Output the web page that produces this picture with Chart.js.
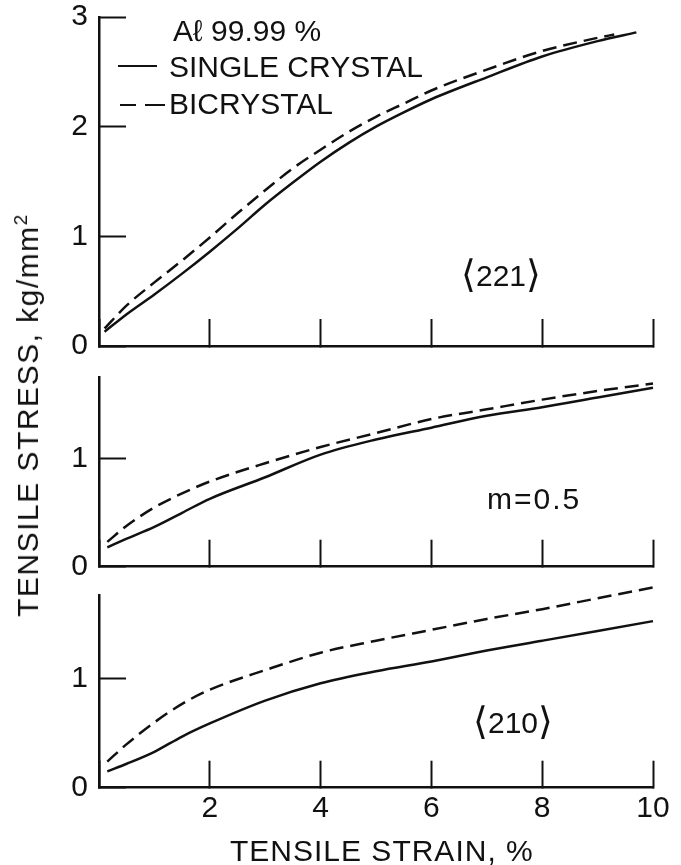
<!DOCTYPE html>
<html>
<head>
<meta charset="utf-8">
<script src="https://cdn.jsdelivr.net/npm/chart.js@4.4.1/dist/chart.umd.min.js"></script>
<style>
  body { margin: 0; background: #fff; }
  #wrap { position: relative; width: 681px; height: 865px; overflow: hidden;
          font-family: "Liberation Sans", Arial, "DejaVu Sans", sans-serif; color: #111; }
  canvas { position: absolute; left: 0; }
  .lbl { position: absolute; font-size: 30px; line-height: 1; white-space: nowrap; }
  .br { font-family: "DejaVu Sans", sans-serif; font-size: 38px; font-weight: 300; vertical-align: -1px; }
  .key { position: absolute; height: 0; border-top: 2.5px solid #111; }
  sup { font-size: 19px; line-height: 0; }
</style>
</head>
<body>
<div id="wrap">
  <canvas id="top" width="681" height="360" style="top:0"></canvas>
  <canvas id="mid" width="681" height="220" style="top:360px"></canvas>
  <canvas id="bot" width="681" height="285" style="top:580px"></canvas>

  <div class="lbl" style="left:173px; top:16px">Aℓ 99.99 %</div>
  <div class="key" style="left:118px; top:65px; width:39px"></div>
  <div class="lbl" style="left:169px; top:52px">SINGLE CRYSTAL</div>
  <div class="key" style="left:120px; top:104px; width:16px"></div>
  <div class="key" style="left:145px; top:104px; width:20px"></div>
  <div class="lbl" style="left:169px; top:89px">BICRYSTAL</div>

  <div class="lbl" style="left:461px; top:255px"><span class="br">⟨</span>221<span class="br">⟩</span></div>
  <div class="lbl" style="left:487px; top:484px; letter-spacing:2px">m=0.5</div>
  <div class="lbl" style="left:473px; top:702px"><span class="br">⟨</span>210<span class="br">⟩</span></div>

  <div class="lbl" style="left:230px; top:836px; letter-spacing:1px">TENSILE STRAIN, %</div>
  <div class="lbl" style="left:28px; top:415px; letter-spacing:1.5px; transform:translate(-50%,-50%) rotate(-90deg)">TENSILE STRESS, kg/mm<sup>2</sup></div>
</div>
<script>
// strain (%) and stress (kg/mm2)
const strainTop = [0.1, 0.5, 1, 1.5, 2, 2.5, 3, 3.5, 4, 4.5, 5, 5.5, 6, 7, 8, 9, 9.7];
const singleTop = [0.13, 0.29, 0.47, 0.66, 0.86, 1.07, 1.29, 1.49, 1.68, 1.85, 2.00, 2.13, 2.25, 2.45, 2.64, 2.78, 2.86];
const strainTopBi = [0.1, 0.5, 1, 1.5, 2, 2.5, 3, 3.5, 4, 4.5, 5, 5.5, 6, 7, 8, 9, 9.3];
const biTop = [0.16, 0.37, 0.58, 0.78, 0.99, 1.21, 1.42, 1.62, 1.79, 1.95, 2.09, 2.21, 2.33, 2.52, 2.69, 2.81, 2.84];

const strainMid = [0.15, 0.5, 1, 1.5, 2, 3, 4, 5, 6, 7, 8, 9, 10];
const singleMid = [0.18, 0.26, 0.37, 0.50, 0.63, 0.83, 1.04, 1.18, 1.29, 1.40, 1.48, 1.57, 1.66];
const biMid = [0.23, 0.38, 0.55, 0.68, 0.79, 0.96, 1.11, 1.24, 1.37, 1.46, 1.55, 1.63, 1.70];

const strainBot = [0.15, 0.5, 1, 1.5, 2, 3, 4, 5, 6, 7, 8, 9, 10];
const singleBot = [0.15, 0.22, 0.33, 0.47, 0.59, 0.80, 0.96, 1.07, 1.16, 1.26, 1.35, 1.44, 1.53];
const biBot = [0.24, 0.40, 0.60, 0.77, 0.90, 1.08, 1.24, 1.35, 1.45, 1.55, 1.64, 1.74, 1.84];

const xTicks = [0, 2, 4, 6, 8, 10];
const yTicksTop = [0, 1, 2, 3];
const yTicksLow = [0, 1];

const ink = '#111';
const tickFont = { family: 'Liberation Sans, Arial, sans-serif', size: 30 };

function series(xs, ys, dashed) {
    return {
        data: xs.map((x, i) => ({ x: x, y: ys[i] })),
        borderColor: ink,
        borderWidth: 2.5,
        borderDash: dashed ? [14, 7] : [],
        pointRadius: 0,
        fill: false,
        clip: false,
        cubicInterpolationMode: 'monotone'
    };
}

// scales would otherwise reserve room for half a label at each end
function noEdgePadding(s) {
    s.paddingTop = 0;
    s.paddingBottom = 0;
    s.paddingLeft = 0;
    s.paddingRight = 0;
}

function makePanel(id, datasets, yMax, yTicks, padTop, xAxisHeight, showX) {
    const ctx = document.getElementById(id).getContext('2d');
    new Chart(ctx, {
        type: 'line',
        data: { datasets: datasets },
        options: {
            responsive: false,
            animation: false,
            layout: { padding: { top: padTop, right: 28, left: 0, bottom: 0 } },
            plugins: { legend: { display: false }, tooltip: { enabled: false } },
            scales: {
                x: {
                    type: 'linear',
                    min: 0,
                    max: 10,
                    afterBuildTicks: s => { s.ticks = xTicks.map(v => ({ value: v })); },
                    afterFit: s => { s.height = xAxisHeight; noEdgePadding(s); },
                    border: { display: true, color: ink, width: 2.5 },
                    grid: { drawOnChartArea: false, tickLength: -27, tickWidth: 2, tickColor: ink },
                    ticks: {
                        display: showX,
                        color: ink,
                        font: tickFont,
                        padding: 30,
                        maxRotation: 0,
                        callback: v => (v === 0 ? '' : String(v))
                    }
                },
                y: {
                    type: 'linear',
                    min: 0,
                    max: yMax,
                    afterBuildTicks: s => { s.ticks = yTicks.map(v => ({ value: v })); },
                    afterFit: s => { s.width = 99; noEdgePadding(s); },
                    border: { display: true, color: ink, width: 2.5 },
                    grid: { drawOnChartArea: false, tickLength: -27, tickWidth: 2, tickColor: ink },
                    ticks: { color: ink, font: tickFont, padding: 38 }
                }
            }
        }
    });
}

makePanel('top', [series(strainTop, singleTop, false), series(strainTopBi, biTop, true)], 3, yTicksTop, 17, 14, false);
makePanel('mid', [series(strainMid, singleMid, false), series(strainMid, biMid, true)], 1.76, yTicksLow, 17, 13.3, false);
makePanel('bot', [series(strainBot, singleBot, false), series(strainBot, biBot, true)], 1.77, yTicksLow, 15, 77.3, true);
</script>
</body>
</html>
